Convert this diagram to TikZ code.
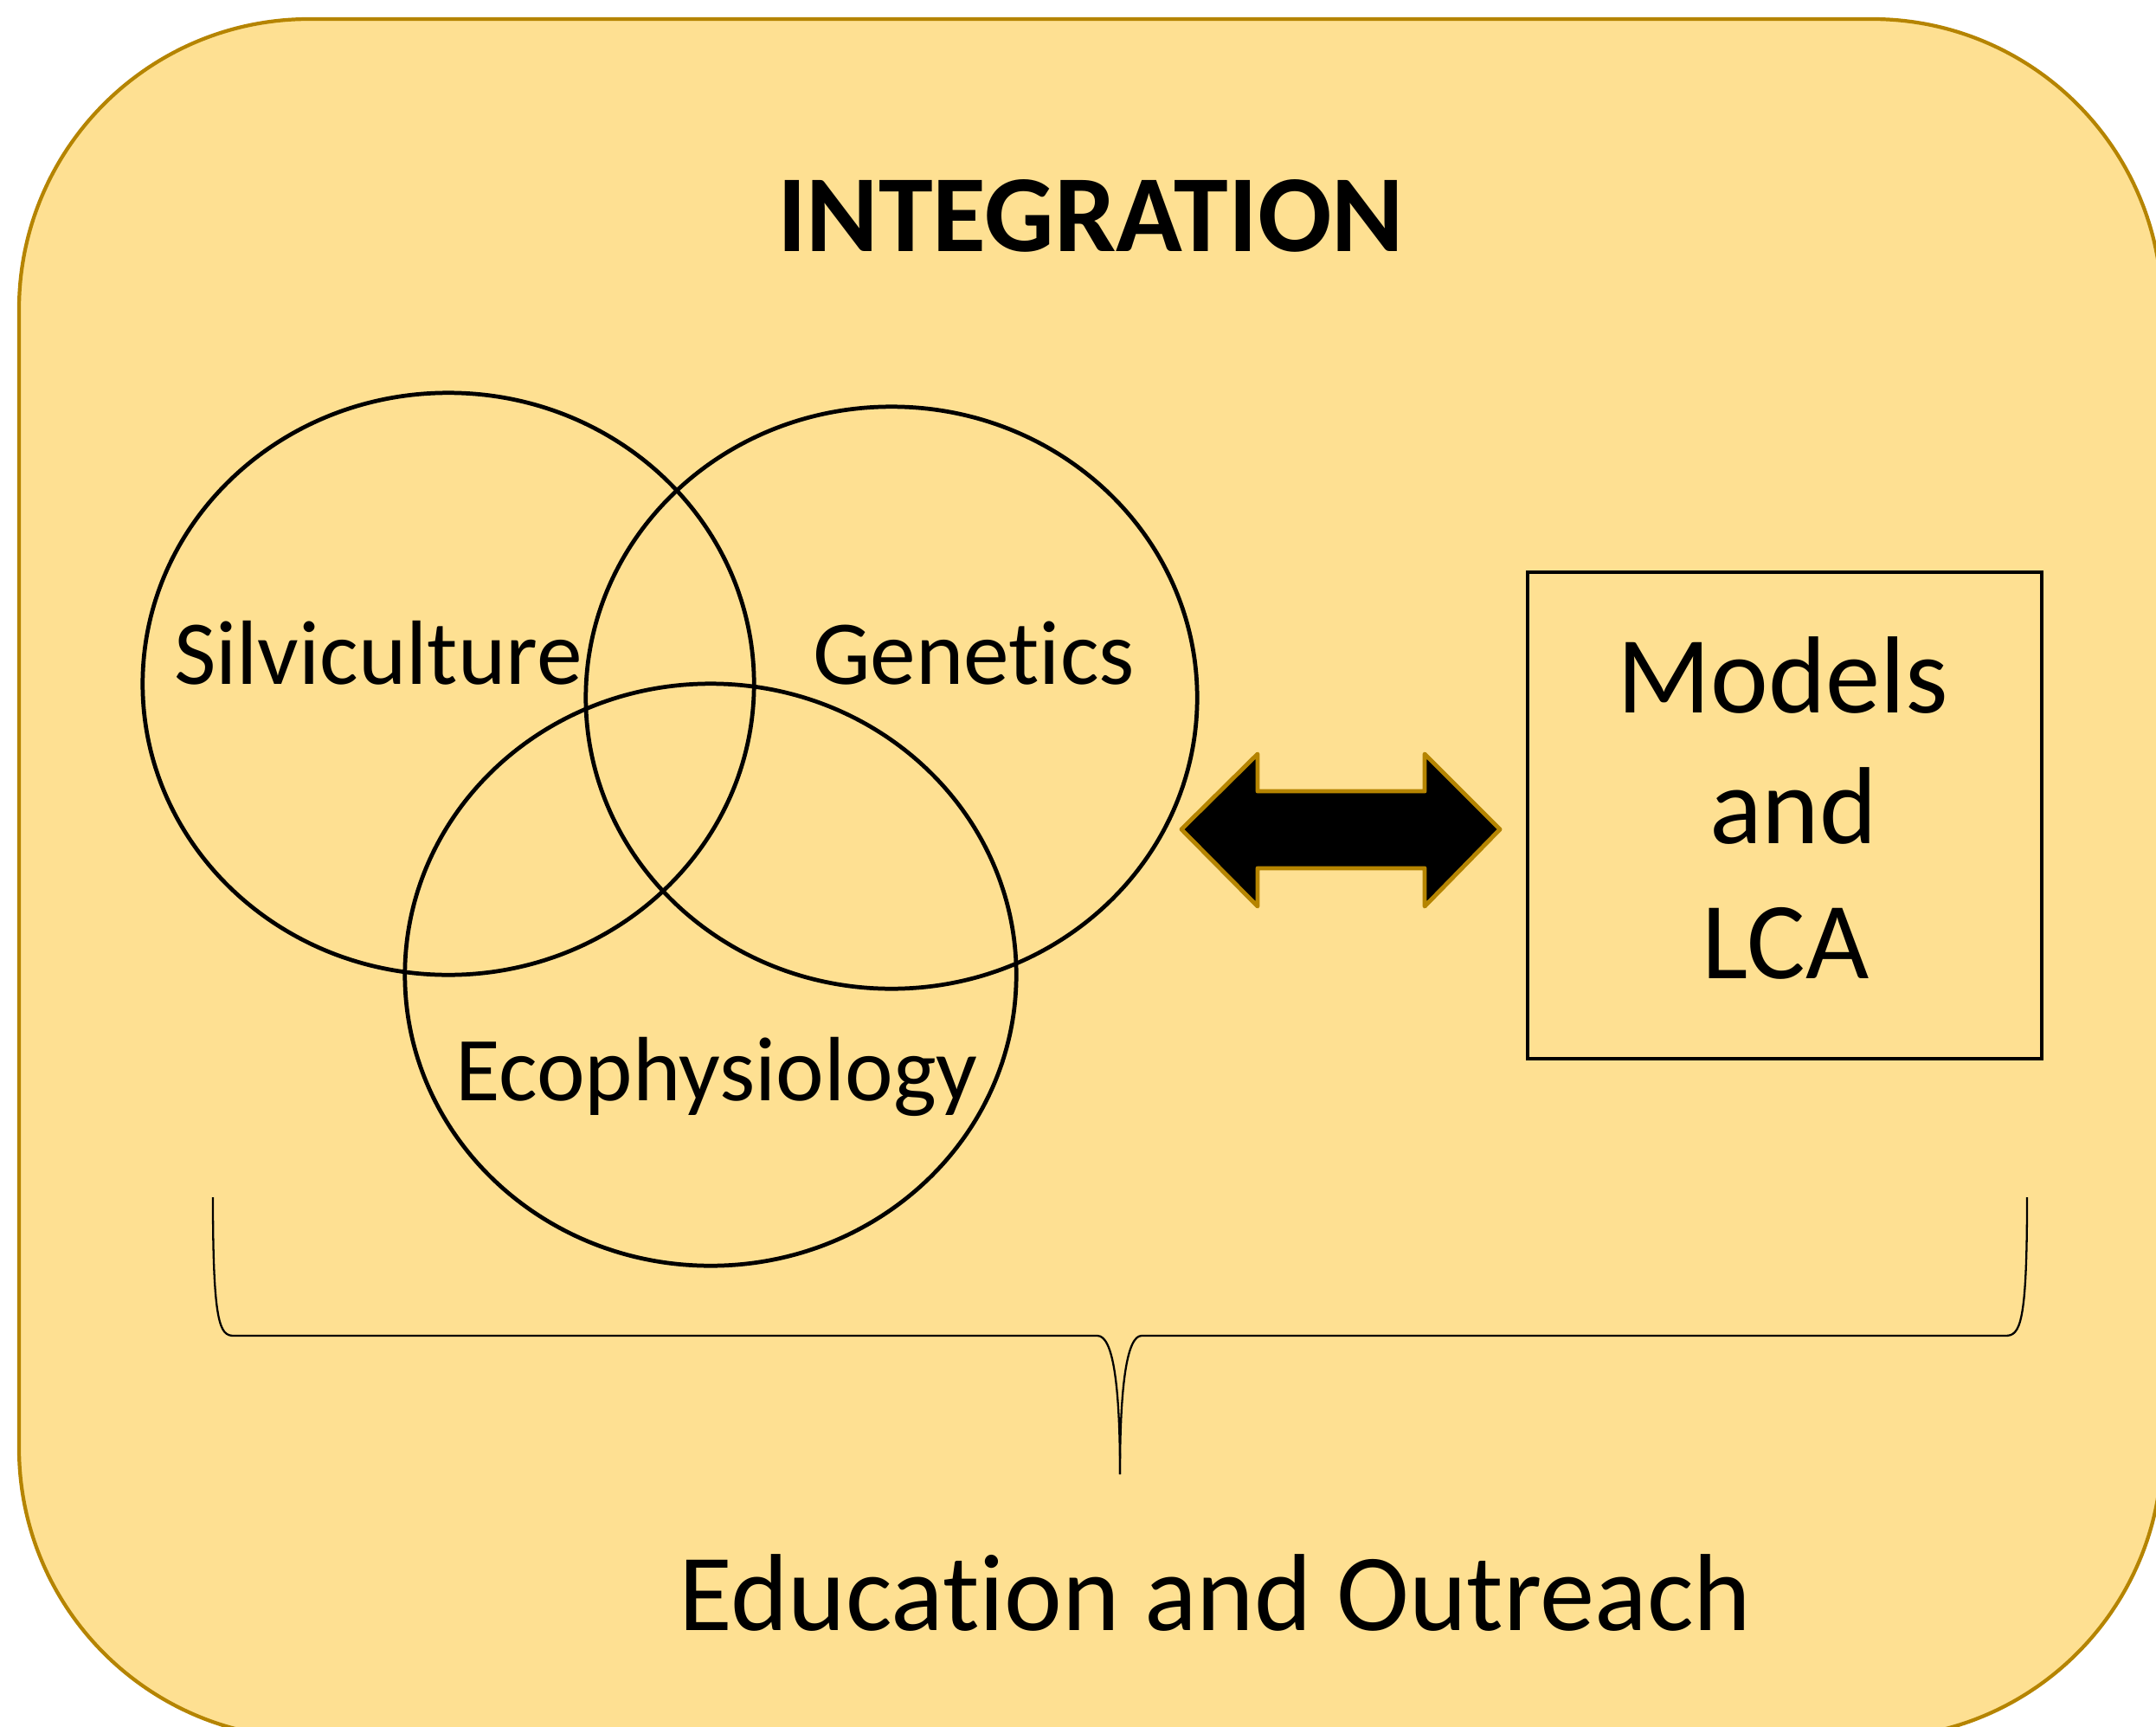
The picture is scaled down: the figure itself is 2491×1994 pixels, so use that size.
\documentclass[tikz,border=0pt]{standalone}
\usepackage{fontspec}
\setmainfont{Carlito}[Ligatures=NoCommon]
\usetikzlibrary{shapes.geometric}
\definecolor{bgfill}{RGB}{254,224,146}
\definecolor{goldline}{RGB}{181,132,0}
\begin{document}
\begin{tikzpicture}[x=0.01cm,y=-0.01cm,
  venn/.style={ellipse, draw=black, line width=1.35pt, inner sep=0pt, minimum width=7.06cm, minimum height=6.72cm},
  vennlabel/.style={anchor=base, inner sep=0pt, font=\fontsize{30}{36}\selectfont},
  boxlabel/.style={anchor=base, inner sep=0pt, font=\fontsize{36}{43}\selectfont},
  modelbox/.style={rectangle, draw=black, line width=1.3pt, inner sep=0pt, minimum width=5.94cm, minimum height=5.62cm},
  bracestyle/.style={draw=black, line width=0.65pt, line join=round},
  dblarrow/.style={fill=black, draw=goldline, line width=1.4pt, line join=round}]
\useasboundingbox (0,0) rectangle (2491,1994);
\clip (0,0) rectangle (2491,1994);
% background panel
\draw[fill=bgfill, draw=goldline, line width=1.2pt, rounded corners=3.35cm] (22,22) rectangle (2498,2008);
% title
\node[anchor=base, inner sep=0pt, font=\fontsize{36}{43}\selectfont\bfseries] (title) at (1260,291) {INTEGRATION};
% Venn ellipses
\node[venn] (silv) at (518,790) {};
\node[venn] (gen) at (1030,806) {};
\node[venn] (eco) at (821,1126) {};
\node[vennlabel] (silvl) at (437,790) {Silviculture};
\node[vennlabel] (genl) at (1125,790) {Genetics};
\node[vennlabel] (ecol) at (828,1271) {Ecophysiology};
% models box
\node[modelbox] (models) at (2062,942) {};
\node[boxlabel] (m1) at (2060,823) {Models};
\node[boxlabel] (m2) at (2072,974) {and};
\node[boxlabel] (m3) at (2063,1130) {LCA};
% double arrow
\coordinate (al) at (1365,958);
\coordinate (ar) at (1733,958);
\draw[dblarrow] (al) -- (1453,871) -- (1453,914) -- (1646,914) -- (1646,871) -- (ar)
  -- (1646,1047) -- (1646,1003) -- (1453,1003) -- (1453,1047) -- cycle;
% brace
\coordinate (bl) at (246,1383);
\coordinate (br) at (2342,1383);
\coordinate (btip) at (1294,1703);
\draw[bracestyle] (bl) .. controls (246,1530) and (254,1543) .. (270,1543) -- (1268,1543)
  .. controls (1286,1543) and (1294,1600) .. (btip);
\draw[bracestyle] (btip) .. controls (1294,1600) and (1302,1543) .. (1319,1543) -- (2317,1543)
  .. controls (2334,1543) and (2342,1530) .. (br);
% bottom label
\node[anchor=base, inner sep=0pt, font=\fontsize{36}{43}\selectfont] (edu) at (1404,1883) {Education and Outreach};
\end{tikzpicture}
\end{document}
